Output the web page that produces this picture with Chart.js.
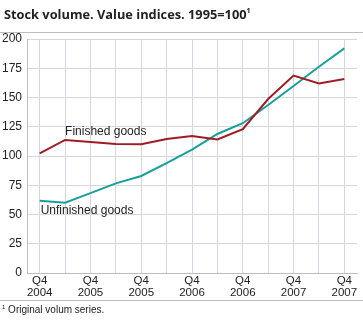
<!DOCTYPE html>
<html><head><meta charset="utf-8">
<script src="https://cdn.jsdelivr.net/npm/chart.js@4"></script>
<style>
html,body{margin:0;padding:0;background:#fff;width:363px;height:325px;overflow:hidden;font-family:"Liberation Sans",Arial,sans-serif;}
#title{position:absolute;left:4px;top:5px;font-family:"Open Sans",sans-serif;font-weight:bold;font-size:12.8px;color:#222;white-space:nowrap;}
#title sup{font-size:7px;vertical-align:6px;}
.rule{position:absolute;left:0;width:363px;height:0;border-top:1px solid #bdbdbd;}
#foot{position:absolute;left:2px;top:304px;font-size:10px;color:#222;white-space:nowrap;}
#foot sup{font-size:6px;vertical-align:4px;}
#wrap{position:absolute;left:0;top:0;width:363px;height:325px;}
</style></head>
<body>
<div id="wrap"><canvas id="c" width="363" height="325"></canvas></div>
<div id="title">Stock volume. Value indices. 1995=100<sup>1</sup></div>
<div class="rule" style="top:32px"></div>
<div class="rule" style="top:300px"></div>
<div id="foot"><sup>1</sup> Original volum series.</div>
<script>
const categories = ["Q4 2004","Q1 2005","Q2 2005","Q3 2005","Q4 2005","Q1 2006","Q2 2006","Q3 2006","Q4 2006","Q1 2007","Q2 2007","Q3 2007","Q4 2007"];
const tickLabels = [["Q4","2004"],["Q4","2005"],["Q4","2005"],["Q4","2006"],["Q4","2006"],["Q4","2007"],["Q4","2007"]];
const finishedGoods = [102.3,113.7,112,110.3,110,114.5,117,114.2,123,148.7,168.7,162,165.8];
const unfinishedGoods = [61.8,60,68.3,76.6,82.9,94,105.5,118.8,128,143.6,159.8,176.3,192];
const yTicks = [0,25,50,75,100,125,150,175,200];

const labelPlugin = {
  id:'seriesLabels',
  afterDatasetsDraw(chart){
    const {ctx, scales:{x,y}} = chart;
    ctx.save();
    ctx.font = '12px "Liberation Sans", Arial, sans-serif';
    ctx.fillStyle = '#222';
    ctx.textBaseline = 'middle';
    ctx.textAlign = 'left';
    ctx.fillText('Finished goods', x.getPixelForValue(1), y.getPixelForValue(120.5));
    ctx.fillText('Unfinished goods', x.getPixelForValue(0)+1, y.getPixelForValue(53));
    ctx.restore();
  }
};

new Chart(document.getElementById('c'), {
  type:'line',
  data:{
    labels:categories,
    datasets:[
      {label:'Finished goods',data:finishedGoods,borderColor:'#a01c24',borderWidth:2,pointRadius:0,tension:0,fill:false},
      {label:'Unfinished goods',data:unfinishedGoods,borderColor:'#17a09b',borderWidth:2,pointRadius:0,tension:0,fill:false}
    ]
  },
  options:{
    responsive:false,animation:false,
    layout:{padding:{top:39,right:6,left:0,bottom:26}},
    plugins:{legend:{display:false},tooltip:{enabled:false},title:{display:false}},
    scales:{
      x:{
        offset:true,
        grid:{color:'#d6d6de',lineWidth:1,drawTicks:false,offset:false},
        border:{color:'#bdbdbd'},
        ticks:{autoSkip:false,maxRotation:0,padding:2,color:'#222',
          font:{family:'"Liberation Sans", Arial, sans-serif',size:11.5,lineHeight:1.05},
          callback:(v,i)=> (i%2===0 ? tickLabels[i/2] : '')},
        afterFit:s=>{s.height=26;}
      },
      y:{
        min:0,max:200,
        afterBuildTicks:s=>{s.ticks=yTicks.map(v=>({value:v}));},
        grid:{color:'#d6d6de',lineWidth:1,drawTicks:false},
        border:{color:'#bdbdbd'},
        ticks:{padding:5,color:'#222',font:{family:'"Liberation Sans", Arial, sans-serif',size:12}},
        afterFit:s=>{s.width=27;}
      }
    }
  },
  plugins:[labelPlugin]
});
</script>
</body></html>
